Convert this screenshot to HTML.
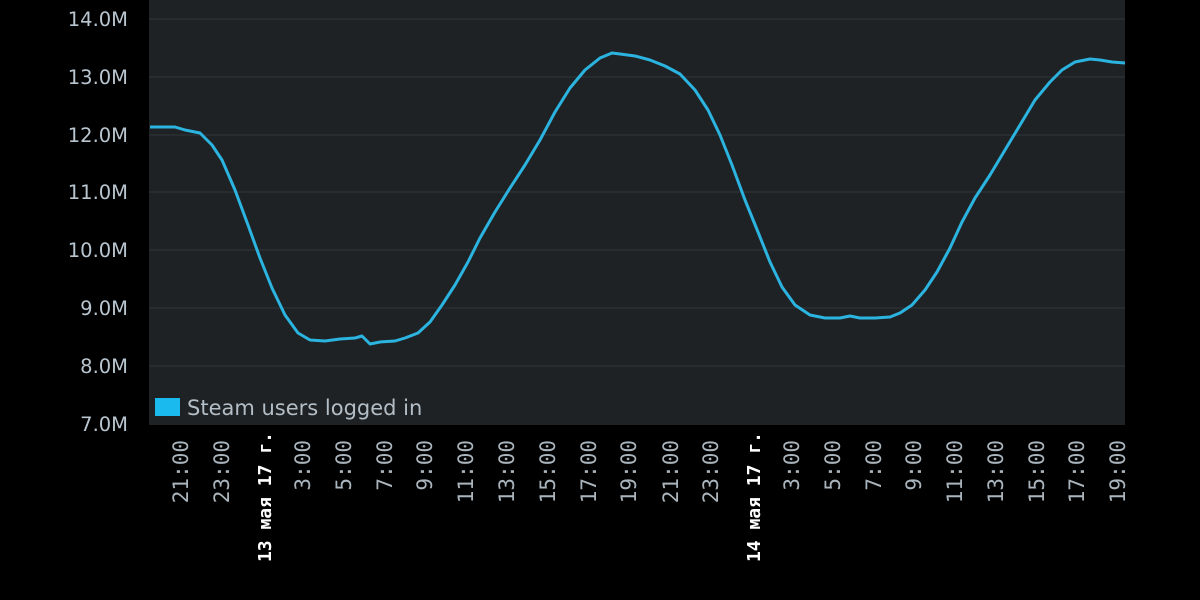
<!DOCTYPE html>
<html><head><meta charset="utf-8"><style>
html,body{margin:0;padding:0;background:#000;width:1200px;height:600px;overflow:hidden}
</style></head><body>
<svg width="1200" height="600" xmlns="http://www.w3.org/2000/svg">
<rect width="1200" height="600" fill="#000"/>
<rect x="149" y="0" width="976" height="425" fill="#1e2225"/>
<g stroke="#30353a" stroke-width="1">
<line x1="149" y1="19" x2="1125" y2="19"/>
<line x1="149" y1="77" x2="1125" y2="77"/>
<line x1="149" y1="135" x2="1125" y2="135"/>
<line x1="149" y1="192" x2="1125" y2="192"/>
<line x1="149" y1="250" x2="1125" y2="250"/>
<line x1="149" y1="308" x2="1125" y2="308"/>
<line x1="149" y1="366" x2="1125" y2="366"/>
</g>
<g font-family="DejaVu Sans, sans-serif" font-size="19.5" fill="#b9c6d0" text-anchor="end">
<text x="128" y="26">14.0M</text>
<text x="128" y="84">13.0M</text>
<text x="128" y="142">12.0M</text>
<text x="128" y="199">11.0M</text>
<text x="128" y="257">10.0M</text>
<text x="128" y="315">9.0M</text>
<text x="128" y="373">8.0M</text>
<text x="128" y="431">7.0M</text>
</g>
<polyline fill="none" stroke="#2cb4e0" stroke-width="3" stroke-linejoin="round" points="150,127 175,127 185,130 200,133 212,145 222,160 235,190 248,225 260,258 272,288 285,315 298,333 310,340 325,341 340,339 355,338 362,336 370,344 380,342 395,341 405,338 418,333 430,322 442,305 455,285 468,262 480,238 495,212 510,188 525,165 540,140 555,112 570,88 585,70 600,58 612,53 620,54 635,56 650,60 665,66 680,74 695,90 708,110 720,135 732,165 745,200 758,232 770,262 782,287 795,305 810,315 825,318 840,318 850,316 860,318 875,318 890,317 900,313 912,305 925,290 937,272 950,248 962,222 975,198 990,175 1005,150 1020,125 1035,100 1050,82 1062,70 1075,62 1090,59 1100,60 1112,62 1125,63"/>
<rect x="155" y="398" width="25" height="18" fill="#1ab9ee"/>
<text x="187" y="415" font-family="DejaVu Sans, sans-serif" font-size="21" fill="#b4bec6">Steam users logged in</text>
<g font-family="DejaVu Sans Mono, monospace" font-size="21" fill="#aab4bc" text-anchor="end">
<text transform="translate(188,440) rotate(-90)">21:00</text>
<text transform="translate(229,440) rotate(-90)">23:00</text>
<text transform="translate(310,440) rotate(-90)">3:00</text>
<text transform="translate(351,440) rotate(-90)">5:00</text>
<text transform="translate(392,440) rotate(-90)">7:00</text>
<text transform="translate(432,440) rotate(-90)">9:00</text>
<text transform="translate(473,440) rotate(-90)">11:00</text>
<text transform="translate(514,440) rotate(-90)">13:00</text>
<text transform="translate(555,440) rotate(-90)">15:00</text>
<text transform="translate(596,440) rotate(-90)">17:00</text>
<text transform="translate(636,440) rotate(-90)">19:00</text>
<text transform="translate(678,440) rotate(-90)">21:00</text>
<text transform="translate(718,440) rotate(-90)">23:00</text>
<text transform="translate(799,440) rotate(-90)">3:00</text>
<text transform="translate(840,440) rotate(-90)">5:00</text>
<text transform="translate(881,440) rotate(-90)">7:00</text>
<text transform="translate(921,440) rotate(-90)">9:00</text>
<text transform="translate(962,440) rotate(-90)">11:00</text>
<text transform="translate(1003,440) rotate(-90)">13:00</text>
<text transform="translate(1044,440) rotate(-90)">15:00</text>
<text transform="translate(1084,440) rotate(-90)">17:00</text>
<text transform="translate(1125,440) rotate(-90)">19:00</text>
</g>
<g font-family="DejaVu Sans Mono, monospace" font-size="18" font-weight="bold" fill="#ffffff" text-anchor="end">
<text transform="translate(271,432) rotate(-90)">13 мая 17 г.</text>
<text transform="translate(760,432) rotate(-90)">14 мая 17 г.</text>
</g>
</svg>
</body></html>
